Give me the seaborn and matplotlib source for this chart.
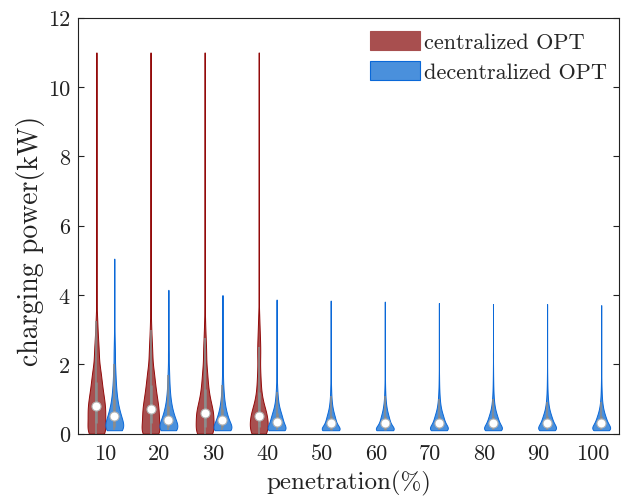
import numpy as np
import pandas as pd
import matplotlib
matplotlib.use("Agg")
import matplotlib.pyplot as plt
from matplotlib import cbook
from matplotlib.patches import Patch
import seaborn as sns

# ---------------------------------------------------------------- data
penetration = ["10", "20", "30", "40", "50", "60", "70", "80", "90", "100"]
schemes = ["centralized OPT", "decentralized OPT"]

# charging-power levels (kW) at which the EV samples are tallied
power_levels = [0.0, 0.1, 0.2, 0.3, 0.4, 0.5, 0.6, 0.7, 0.8, 0.9, 1.0,
                1.1, 1.2, 1.3, 1.4, 1.5, 1.6, 1.7, 1.8, 1.9, 2.0,
                2.25, 2.5, 2.75, 3.0, 3.25, 3.5, 4.0]

# number of EVs charging at each power level, one row per penetration rate
central_counts = [
    [140, 38, 40, 44, 48, 50, 51, 51, 50, 46, 43, 40, 37, 34, 31, 29, 28, 26, 24, 22, 20, 38, 30, 22, 16, 12, 7, 5],
    [160, 42, 45, 48, 52, 54, 54, 52, 49, 45, 41, 38, 35, 32, 29, 27, 25, 23, 21, 19, 17, 32, 24, 17, 12, 8, 5, 3],
    [165, 42, 48, 56, 62, 64, 66, 55, 48, 42, 36, 32, 28, 25, 23, 21, 20, 18, 17, 16, 15, 30, 24, 18, 12, 8, 5, 3],
    [175, 50, 58, 70, 76, 76, 62, 50, 40, 33, 27, 22, 19, 17, 16, 15, 14, 13, 12, 11, 10, 34, 30, 24, 18, 13, 8, 5],
]
decentral_counts = [
    [0, 170, 105, 85, 75, 72, 58, 47, 40, 34, 29, 25, 22, 19, 17, 15, 13, 12, 11, 10, 9, 20, 14, 9, 6, 4, 3, 2],
    [0, 190, 110, 95, 82, 68, 55, 45, 37, 30, 25, 21, 18, 15, 13, 11, 10, 9, 8, 7, 6, 14, 9, 6, 4, 2, 1, 1],
    [0, 210, 115, 95, 80, 65, 52, 42, 34, 27, 22, 18, 15, 12, 10, 8, 7, 6, 5, 4, 4, 8, 5, 3, 2, 1, 1, 0],
    [0, 200, 115, 100, 88, 75, 62, 45, 33, 25, 19, 15, 12, 9, 7, 5, 4, 3, 3, 2, 2, 3, 2, 0, 0, 0, 0, 0],
    [0, 300, 150, 120, 100, 85, 62, 45, 33, 24, 18, 14, 11, 9, 7, 5, 4, 3, 3, 2, 2, 2, 0, 0, 0, 0, 0, 0],
    [0, 305, 152, 120, 98, 83, 60, 44, 32, 23, 17, 13, 10, 8, 6, 5, 4, 3, 2, 2, 2, 2, 0, 0, 0, 0, 0, 0],
    [0, 250, 175, 130, 105, 90, 65, 47, 34, 25, 19, 14, 11, 8, 6, 5, 4, 3, 2, 2, 1, 2, 0, 0, 0, 0, 0, 0],
    [0, 249, 176, 133, 107, 88, 64, 46, 33, 24, 18, 13, 10, 8, 6, 5, 4, 3, 2, 2, 1, 2, 0, 0, 0, 0, 0, 0],
    [0, 235, 185, 135, 108, 90, 64, 46, 33, 24, 18, 13, 10, 8, 6, 5, 4, 3, 2, 2, 1, 2, 0, 0, 0, 0, 0, 0],
    [0, 238, 188, 136, 108, 88, 62, 45, 32, 23, 17, 13, 10, 8, 6, 5, 4, 3, 2, 2, 1, 2, 0, 0, 0, 0, 0, 0],
]
# largest charging power observed in each case (kW)
central_peak = [11.0, 11.0, 11.0, 11.0]
decentral_peak = [5.05, 4.15, 4.0, 3.87, 3.84, 3.81, 3.77, 3.74, 3.74, 3.71]

y_ticks = [0, 2, 4, 6, 8, 10, 12]

face_colors = ["#a84f4f", "#4a90dc"]
edge_colors = ["#930a0a", "#0a68d8"]

# ---------------------------------------------------------------- samples
frames = []
for scheme, counts_rows, peaks in zip(schemes,
                                      [central_counts, decentral_counts],
                                      [central_peak, decentral_peak]):
    for pen, counts, peak in zip(penetration, counts_rows, peaks):
        power = np.append(np.repeat(power_levels, counts), peak)
        frames.append(pd.DataFrame({"penetration": pen,
                                    "scheme": scheme,
                                    "power": power}))
df = pd.concat(frames, ignore_index=True)

# ---------------------------------------------------------------- style
sns.set_theme(style="white")
plt.rcParams["font.family"] = ["cmr10", "DejaVu Serif"]
plt.rcParams["axes.unicode_minus"] = False

fig = plt.figure(figsize=(6.29, 5.02), dpi=100)
ax = fig.add_axes([0.1245, 0.1341, 0.8601, 0.8286])

violin_width = 0.66
for scheme, face, edge in zip(schemes, face_colors, edge_colors):
    sns.violinplot(
        data=df[df["scheme"] == scheme], x="penetration", y="power",
        hue="scheme", order=penetration, hue_order=schemes,
        palette=dict(zip(schemes, face_colors)), saturation=1,
        linecolor=edge, linewidth=0.7, width=violin_width, dodge=True,
        density_norm="width", cut=0, gridsize=500, inner=None,
        legend=False, ax=ax,
    )

# box-plot summary inside every violin: whisker line, IQR bar, median dot
half = violin_width / 2
for h, scheme in enumerate(schemes):
    offset = (h - 0.5) * half
    sub = df[df["scheme"] == scheme]
    for i, pen in enumerate(penetration):
        vals = sub.loc[sub["penetration"] == pen, "power"].to_numpy()
        if vals.size == 0:
            continue
        st = cbook.boxplot_stats(vals)[0]
        x = i + offset
        ax.plot([x, x], [st["whislo"], st["whishi"]], color="#8c8c8c",
                lw=1.1, solid_capstyle="butt", zorder=4)
        ax.plot([x, x], [st["q1"], st["q3"]], color="#8c8c8c",
                lw=1.8, solid_capstyle="butt", zorder=4)
        ax.plot([x], [st["med"]], marker="o", ms=6.5, mfc="white",
                mec="#b4b4b4", mew=0.8, ls="none", zorder=5)

ax.set_xlim(-0.5, len(penetration) - 0.5)
ax.set_ylim(0, 12)
ax.set_yticks(y_ticks)
ax.set_yticklabels([str(t) for t in y_ticks])
ax.set_xticks(range(len(penetration)))
ax.set_xticklabels(penetration)

ax.tick_params(axis="y", direction="in", length=4, width=0.8,
               left=True, right=True, labelsize=16, pad=6, colors="#222222")
ax.tick_params(axis="x", length=0, labelsize=16, pad=7, colors="#222222")

for s in ax.spines.values():
    s.set_visible(True)
    s.set_color("#222222")
    s.set_linewidth(0.8)

ax.set_xlabel("penetration(%)", fontsize=18, labelpad=5, color="#222222")
ax.set_ylabel("charging power(kW)", fontsize=20, color="#222222")
ax.yaxis.set_label_coords(-0.062, 0.467)

handles = [Patch(facecolor=face_colors[0], edgecolor=face_colors[0], lw=0.8),
           Patch(facecolor=face_colors[1], edgecolor=edge_colors[1], lw=0.8)]
ax.legend(handles, schemes, loc="upper left", bbox_to_anchor=(0.539, 0.968),
          frameon=False, fontsize=16, handlelength=2.25, handleheight=0.95,
          handletextpad=0.2, labelspacing=0.38, borderpad=0, borderaxespad=0)

fig.savefig("out.png", dpi=100)
